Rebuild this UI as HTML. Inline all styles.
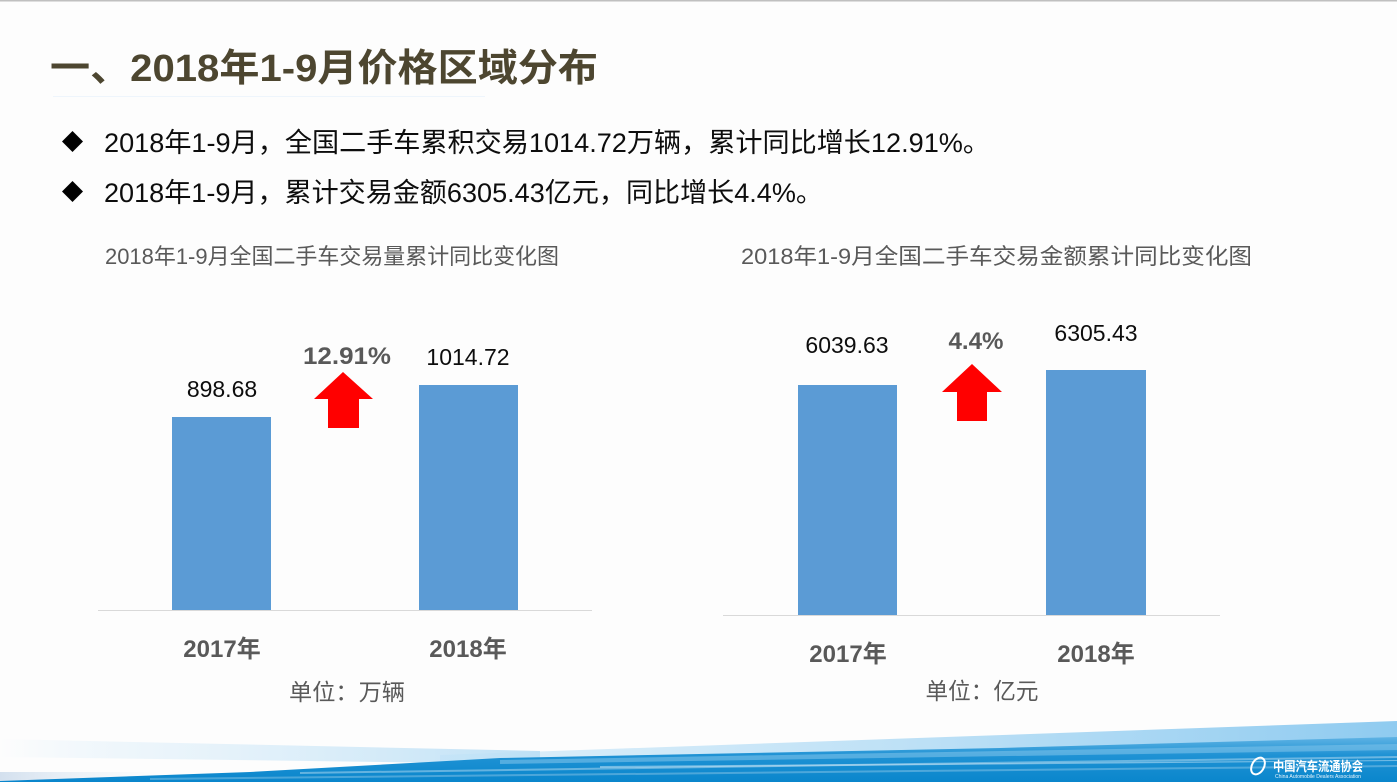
<!DOCTYPE html>
<html><head><meta charset="utf-8"><style>
html,body{margin:0;padding:0;background:#fdfdfd;}
svg{display:block;}
text{font-family:"Liberation Sans","Noto Sans CJK SC",sans-serif;}
</style></head><body>
<svg width="1397" height="782" viewBox="0 0 1397 782" xmlns="http://www.w3.org/2000/svg">
<defs>
<linearGradient id="pale" x1="0" y1="0" x2="1" y2="0">
<stop offset="0" stop-color="#d8ecf8" stop-opacity="0"/>
<stop offset="0.3" stop-color="#e3f1fa" stop-opacity="0.7"/>
<stop offset="1" stop-color="#bfe1f6"/>
</linearGradient>
<linearGradient id="blue" x1="0" y1="0" x2="0" y2="1">
<stop offset="0" stop-color="#5fb3e4"/>
<stop offset="0.4" stop-color="#1f92d4"/>
<stop offset="1" stop-color="#0a86cc"/>
</linearGradient>
<linearGradient id="lt" x1="0" y1="0" x2="1" y2="0">
<stop offset="0" stop-color="#bfe2f7" stop-opacity="0.5"/>
<stop offset="1" stop-color="#8fcbf0"/>
</linearGradient>
<linearGradient id="grayl" x1="0" y1="0" x2="1" y2="0">
<stop offset="0" stop-color="#d3e0ee"/>
<stop offset="1" stop-color="#e6eef6" stop-opacity="0"/>
</linearGradient>
</defs>
<rect x="0" y="0" width="1397" height="782" fill="#fdfdfd"/>
<rect x="0" y="0" width="1397" height="1.5" fill="#c0c0c0"/>

<!-- Title -->
<text x="50" y="81" font-size="38" font-weight="bold" fill="#4d4630" textLength="548" lengthAdjust="spacingAndGlyphs">一、2018年1-9月价格区域分布</text>
<rect x="53" y="96" width="432" height="1" fill="#eef5fc"/>

<!-- Bullets -->
<polygon points="72.5,131 83,141.5 72.5,152 62,141.5" fill="#000"/>
<text x="104" y="152" font-size="27" fill="#0d0d0d" textLength="886" lengthAdjust="spacingAndGlyphs">2018年1-9月，全国二手车累积交易1014.72万辆，累计同比增长12.91%。</text>
<polygon points="72.5,181 83,191.5 72.5,202 62,191.5" fill="#000"/>
<text x="104" y="202" font-size="27" fill="#0d0d0d" textLength="719" lengthAdjust="spacingAndGlyphs">2018年1-9月，累计交易金额6305.43亿元，同比增长4.4%。</text>

<!-- Chart 1 -->
<text x="105" y="264" font-size="22" fill="#595959" textLength="454" lengthAdjust="spacingAndGlyphs">2018年1-9月全国二手车交易量累计同比变化图</text>
<rect x="98" y="610" width="494" height="1" fill="#d9d9d9"/>
<rect x="172" y="417" width="99" height="193" fill="#5b9bd5"/>
<rect x="419" y="385" width="99" height="225" fill="#5b9bd5"/>
<polygon points="343,372 373,399 359,399 359,428 328,428 328,399 314,399" fill="#ff0000"/>
<text x="222" y="397" font-size="23" fill="#0d0d0d" text-anchor="middle">898.68</text>
<text x="468" y="365" font-size="23" fill="#0d0d0d" text-anchor="middle">1014.72</text>
<text x="347" y="364" font-size="24" font-weight="bold" fill="#595959" text-anchor="middle" textLength="88" lengthAdjust="spacingAndGlyphs">12.91%</text>
<text x="222" y="657" font-size="24" font-weight="bold" fill="#595959" text-anchor="middle">2017年</text>
<text x="468" y="657" font-size="24" font-weight="bold" fill="#595959" text-anchor="middle">2018年</text>
<text x="347" y="700" font-size="23" fill="#595959" text-anchor="middle" textLength="116" lengthAdjust="spacingAndGlyphs">单位：万辆</text>

<!-- Chart 2 -->
<text x="741" y="264" font-size="22" fill="#595959" textLength="511" lengthAdjust="spacingAndGlyphs">2018年1-9月全国二手车交易金额累计同比变化图</text>
<rect x="723" y="615" width="497" height="1" fill="#d9d9d9"/>
<rect x="798" y="385" width="99" height="230" fill="#5b9bd5"/>
<rect x="1046" y="370" width="100" height="245" fill="#5b9bd5"/>
<polygon points="972,364 1002,392 987,392 987,421 957,421 957,392 942,392" fill="#ff0000"/>
<text x="847" y="353" font-size="23" fill="#0d0d0d" text-anchor="middle">6039.63</text>
<text x="1096" y="341" font-size="23" fill="#0d0d0d" text-anchor="middle">6305.43</text>
<text x="976" y="349" font-size="24" font-weight="bold" fill="#595959" text-anchor="middle" textLength="55" lengthAdjust="spacingAndGlyphs">4.4%</text>
<text x="848" y="662" font-size="24" font-weight="bold" fill="#595959" text-anchor="middle">2017年</text>
<text x="1096" y="662" font-size="24" font-weight="bold" fill="#595959" text-anchor="middle">2018年</text>
<text x="982" y="699" font-size="23" fill="#595959" text-anchor="middle" textLength="113" lengthAdjust="spacingAndGlyphs">单位：亿元</text>

<!-- Bottom decoration -->
<polygon points="0,739 540,751 540,764 0,757" fill="url(#pale)"/>
<polygon points="0,772 160,772 160,782 0,782" fill="url(#grayl)"/>
<polygon points="440,755 1397,721 1397,742 440,761" fill="url(#lt)"/>
<polygon points="0,782 0,781 250,772 500,758 1000,748 1397,737 1397,782" fill="url(#blue)"/>
<polygon points="500,760 1397,744 1397,750 500,764" fill="#7cc2ea" opacity="0.6"/>
<polygon points="300,772 1397,756 1397,758 300,774" fill="#ffffff" opacity="0.35"/>
<polygon points="150,778 1397,765 1397,767 150,780" fill="#ffffff" opacity="0.25"/>
<polygon points="600,766 1397,760 1397,761 600,768" fill="#cfe9f8" opacity="0.5"/>

<!-- Logo -->
<ellipse cx="1258" cy="766" rx="6" ry="9" fill="none" stroke="#ffffff" stroke-width="2" transform="rotate(30 1258 766)"/>
<text x="1273" y="771" font-size="13" font-weight="bold" fill="#ffffff" font-family="'Noto Serif CJK SC',serif" textLength="90" lengthAdjust="spacingAndGlyphs">中国汽车流通协会</text>
<text x="1275" y="778" font-size="5" fill="#e8f4fb" textLength="86" lengthAdjust="spacingAndGlyphs">China Automobile Dealers Association</text>
</svg>
</body></html>
